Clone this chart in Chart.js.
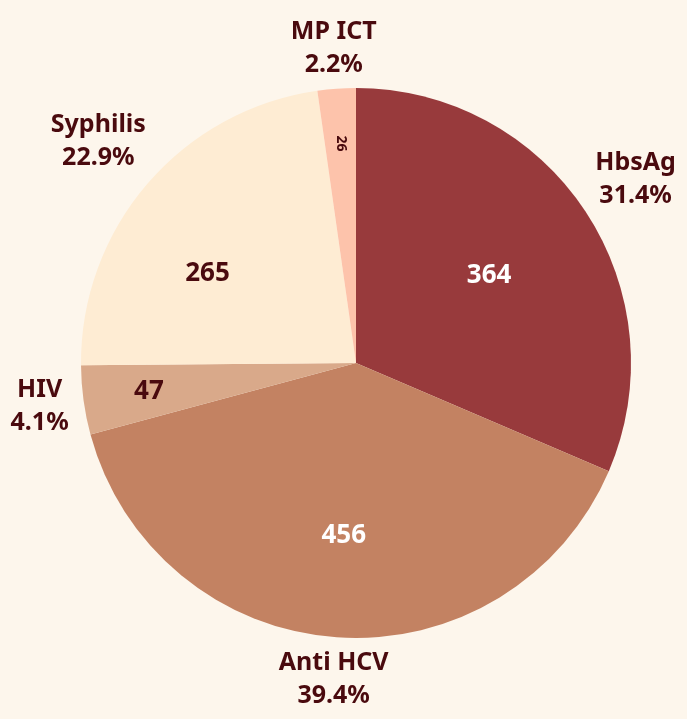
<!DOCTYPE html>
<html>
<head>
<meta charset="utf-8">
<script src="https://cdn.jsdelivr.net/npm/chart.js@4/dist/chart.umd.min.js"></script>
<style>
  html, body { margin: 0; padding: 0; background: #fdf6ec; }
  #wrap { width: 687px; height: 719px; }
</style>
</head>
<body>
<div id="wrap"><canvas id="pie"></canvas></div>
<script>
// datos del gráfico
const categorias = ['HbsAg', 'Anti HCV', 'HIV', 'Syphilis', 'MP ICT'];
const valores = [364, 456, 47, 265, 26];
const porcentajes = ['31.4%', '39.4%', '4.1%', '22.9%', '2.2%'];

const colores = ['#983a3c', '#c38262', '#d9a98a', '#feecd3', '#fdc3ab'];
const colorValor = ['#ffffff', '#ffffff', '#4a0a0e', '#4a0a0e', '#4a0a0e'];
const texto = '#4a0a0e';
const fuente = '"Noto Sans", "Open Sans", sans-serif';

// etiquetas dentro y fuera de cada porción
const etiquetas = {
    id: 'etiquetas',
    afterDatasetsDraw(chart) {
        const ctx = chart.ctx;
        const meta = chart.getDatasetMeta(0);
        // distancia (fracción del radio) y giro extra de los valores internos
        const distInt = [0.58, 0.63, 0.76, 0.63, 0.8];
        const giroInt = [0, 0, 0, -0.17, 0];
        meta.data.forEach((arc, i) => {
            const mid = (arc.startAngle + arc.endAngle) / 2;
            const cx = arc.x, cy = arc.y, r = arc.outerRadius;
            const cos = Math.cos(mid), sin = Math.sin(mid);

            // valor dentro
            ctx.save();
            ctx.fillStyle = colorValor[i];
            ctx.textAlign = 'center';
            ctx.textBaseline = 'middle';
            const a = mid + giroInt[i];
            const di = r * distInt[i];
            ctx.translate(cx + Math.cos(a) * di, cy + Math.sin(a) * di);
            if (i === 4) {
                ctx.rotate(Math.PI / 2);
                ctx.font = 'bold 14px ' + fuente;
            } else {
                ctx.font = 'bold 26px ' + fuente;
            }
            ctx.fillText(valores[i], 0, 0);
            ctx.restore();

            // nombre y porcentaje fuera
            ctx.save();
            ctx.font = 'bold 25px ' + fuente;
            const w = Math.max(ctx.measureText(categorias[i]).width, ctx.measureText(porcentajes[i]).width);
            const h = 52;
            const d = r + 12 + Math.abs(cos) * w / 2 + Math.abs(sin) * h / 2;
            const lx = cx + cos * d, ly = cy + sin * d;
            ctx.fillStyle = texto;
            ctx.textAlign = 'center';
            ctx.textBaseline = 'middle';
            ctx.fillText(categorias[i], lx, ly - 16);
            ctx.fillText(porcentajes[i], lx, ly + 17);
            ctx.restore();
        });
    }
};

new Chart(document.getElementById('pie'), {
    type: 'pie',
    data: {
        labels: categorias,
        datasets: [{
            data: valores,
            backgroundColor: colores,
            borderWidth: 0
        }]
    },
    options: {
        responsive: true,
        maintainAspectRatio: false,
        animation: false,
        layout: { padding: { left: 81, right: 56, top: 88, bottom: 81 } },
        plugins: { legend: { display: false }, tooltip: { enabled: false } }
    },
    plugins: [etiquetas]
});
</script>
</body>
</html>
